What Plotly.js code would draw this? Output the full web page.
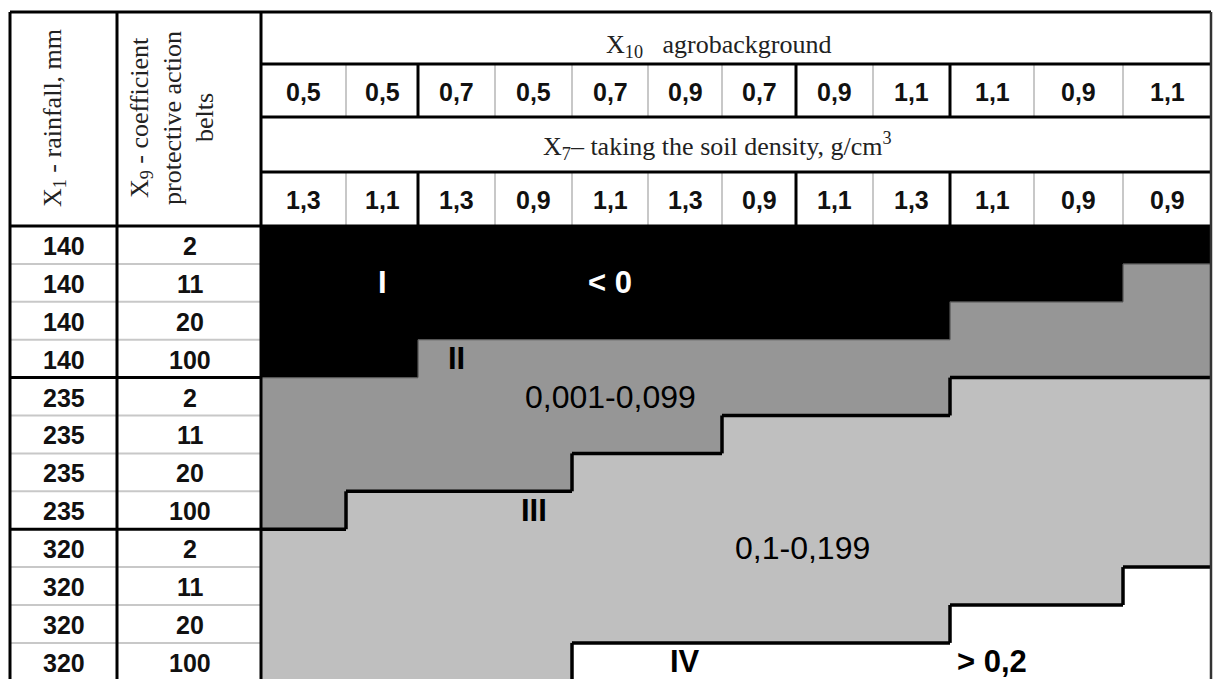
<!DOCTYPE html>
<html>
<head>
<meta charset="utf-8">
<script src="https://cdn.plot.ly/plotly-3.0.1.min.js"></script>
<style>html,body{margin:0;padding:0;background:#fff;} #chart{width:1214px;height:679px;}</style>
</head>
<body>
<div id="chart"></div>
<script>
// ---------------- data ----------------
const agroBackground = ['0,5','0,5','0,7','0,5','0,7','0,9','0,7','0,9','1,1','1,1','0,9','1,1'];
const soilDensity    = ['1,3','1,1','1,3','0,9','1,1','1,3','0,9','1,1','1,3','1,1','0,9','0,9'];
const rainfall       = [140,140,140,140,235,235,235,235,320,320,320,320];
const beltCoefficient= [2,11,20,100,2,11,20,100,2,11,20,100];
// zone level of each cell (1 = I, 2 = II, 3 = III, 4 = IV), one array per row
const zonesRow01 = [1,1,1,1,1,1,1,1,1,1,1,1];
const zonesRow02 = [1,1,1,1,1,1,1,1,1,1,1,2];
const zonesRow03 = [1,1,1,1,1,1,1,1,1,2,2,2];
const zonesRow04 = [1,1,2,2,2,2,2,2,2,2,2,2];
const zonesRow05 = [2,2,2,2,2,2,2,2,2,3,3,3];
const zonesRow06 = [2,2,2,2,2,2,3,3,3,3,3,3];
const zonesRow07 = [2,2,2,2,3,3,3,3,3,3,3,3];
const zonesRow08 = [2,3,3,3,3,3,3,3,3,3,3,3];
const zonesRow09 = [3,3,3,3,3,3,3,3,3,3,3,3];
const zonesRow10 = [3,3,3,3,3,3,3,3,3,3,3,4];
const zonesRow11 = [3,3,3,3,3,3,3,3,3,4,4,4];
const zonesRow12 = [3,3,3,3,4,4,4,4,4,4,4,4];
const zoneNames  = ['I','II','III','IV'];
const zoneRanges = ['< 0','0,001-0,099','0,1-0,199','> 0,2'];
const titleAgro = 'X<sub>10</sub>   agrobackground';
const titleSoil = 'X<sub>7</sub>– taking the soil density, g/cm<sup>3</sup>';
const titleRain = 'X<sub>1</sub> - rainfall, mm';
const titleBelt = ['X<sub>9</sub> - coefficient','protective action','belts'];

// ---------------- layout constants ----------------
const zones = [zonesRow01,zonesRow02,zonesRow03,zonesRow04,zonesRow05,zonesRow06,
               zonesRow07,zonesRow08,zonesRow09,zonesRow10,zonesRow11,zonesRow12];
const W = 1214, H = 679;
const X0 = 10, XC1 = 117, XC2 = 261, XR = 1211;
const colEdges = [261,346,418,495,572,648,722,796,873,950,1034,1123,1211];
const headerY = [12,64,117,172,226];
const rowTop = 226, rowH = 37.9;
const rowEdges = Array.from({length: 13}, (_, i) => rowTop + i * rowH);
const groupCols = [2,7,9];
const groupRows = [4,8];
const sansB = {family:'Liberation Sans, Arial, sans-serif', size:25, color:'#111', weight:700};
const serif = {family:'Liberation Serif, Times New Roman, serif', size:26, color:'#222'};
const zoneColors = ['#000000','#969696','#bfbfbf','#ffffff'];

const colC = i => (colEdges[i] + colEdges[i+1]) / 2;
const rowC = i => (rowEdges[i] + rowEdges[i+1]) / 2;

const shapes = [];
function line(x0,y0,x1,y1,w,c){ shapes.push({type:'line',xref:'x',yref:'y',x0,y0,x1,y1,line:{width:w,color:c}}); }
const THIN = '#c8c8c8', THICK = '#000';

// thin row separators in the left two columns
for (let i = 1; i < 12; i++) if (!groupRows.includes(i)) line(X0, rowEdges[i], XC2, rowEdges[i], 2, THIN);
// thin/thick column separators in the value header rows
for (let j = 1; j < 12; j++) {
  const g = groupCols.includes(j);
  [[headerY[1],headerY[2]],[headerY[3],headerY[4]]].forEach(([a,b]) =>
    line(colEdges[j], a, colEdges[j], b, g ? 3 : 2, g ? THICK : THIN));
}
// zone boundaries inside the data area
for (let r = 0; r < 12; r++) for (let c = 0; c < 12; c++) {
  const v = zones[r][c];
  if (c < 11 && zones[r][c+1] !== v) {
    const hard = Math.min(v, zones[r][c+1]) >= 2;
    line(colEdges[c+1], rowEdges[r], colEdges[c+1], rowEdges[r+1], hard ? 3.5 : 1.2, hard ? '#000' : '#555');
  }
  if (r < 11 && zones[r+1][c] !== v) {
    const hard = Math.min(v, zones[r+1][c]) >= 2;
    line(colEdges[c], rowEdges[r+1], colEdges[c+1], rowEdges[r+1], hard ? 3.5 : 1.2, hard ? '#000' : '#555');
  }
}
// thick frame lines
headerY.forEach(y => line(y === 226 || y === 12 ? X0 : XC2, y, XR, y, 3, THICK));
groupRows.forEach(i => line(X0, rowEdges[i], XC2, rowEdges[i], 3, THICK));
[X0, XC1, XC2].forEach(x => line(x, headerY[0], x, rowEdges[12], 3, THICK));
line(XR, headerY[0], XR, rowEdges[12], 2.5, '#333');

// ---------------- annotations ----------------
const ann = [];
function txt(x, y, text, font, extra){ ann.push(Object.assign({xref:'x',yref:'y',x,y,text,showarrow:false,xanchor:'center',yanchor:'middle',font}, extra||{})); }
txt(718, 46, titleAgro, serif);
txt(717, 146, titleSoil, serif);
agroBackground.forEach((t,i) => txt(colC(i), (headerY[1]+headerY[2])/2 + 1, t, sansB));
soilDensity.forEach((t,i) => txt(colC(i), (headerY[3]+headerY[4])/2 + 1, t, sansB));
rainfall.forEach((t,i) => txt((X0+XC1)/2, rowC(i) + 1, String(t), sansB));
beltCoefficient.forEach((t,i) => txt((XC1+XC2)/2 + 1, rowC(i) + 1, String(t), sansB));
txt(54, 118, titleRain, serif, {textangle:-90});
[141, 172, 204].forEach((x,i) => txt(x, 118, titleBelt[i], serif, {textangle:-90}));

const zFont = (c, bold) => ({family:'Liberation Sans, Arial, sans-serif', size: bold ? 31 : 32, color:c, weight: bold ? 700 : 400});
txt(colC(1), rowC(1), zoneNames[0], zFont('#fff', true));
txt(colC(4), rowC(1), zoneRanges[0], zFont('#fff', true));
txt(colC(2), rowC(3), zoneNames[1], zFont('#000', true));
txt(colC(4), rowC(4), zoneRanges[1], zFont('#000', false));
txt(colC(3), rowC(7), zoneNames[2], zFont('#000', true));
txt(colEdges[7] + 6, rowC(8), zoneRanges[2], zFont('#000', false));
txt(colC(5), rowC(11), zoneNames[3], zFont('#000', true));
txt(colC(9), rowC(11), zoneRanges[3], zFont('#000', true));

// ---------------- heatmap of zones ----------------
const trace = {
  type:'heatmap', x: colEdges, y: rowEdges, z: zones,
  zmin: 0.5, zmax: 4.5, showscale:false, hoverinfo:'skip',
  colorscale: [[0,zoneColors[0]],[0.25,zoneColors[0]],[0.25,zoneColors[1]],[0.5,zoneColors[1]],
               [0.5,zoneColors[2]],[0.75,zoneColors[2]],[0.75,zoneColors[3]],[1,zoneColors[3]]]
};

Plotly.newPlot('chart', [trace], {
  width: W, height: H, margin:{l:0,r:0,t:0,b:0},
  paper_bgcolor:'#fff', plot_bgcolor:'#fff', showlegend:false,
  xaxis:{range:[0,W], visible:false, fixedrange:true},
  yaxis:{range:[H,0], visible:false, fixedrange:true},
  shapes, annotations: ann
}, {staticPlot:true, displayModeBar:false});
</script>
</body>
</html>
